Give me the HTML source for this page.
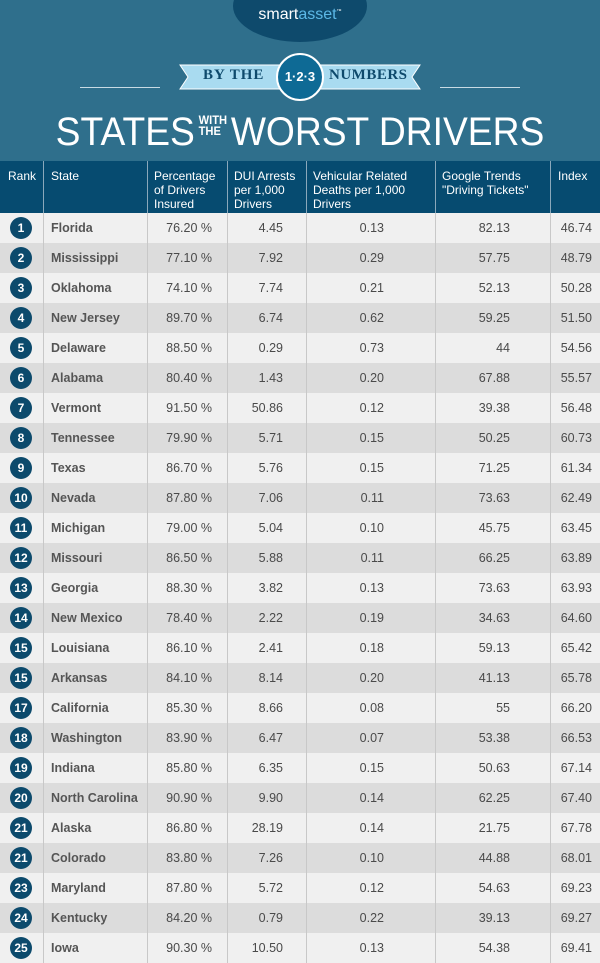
<!DOCTYPE html>
<html><head><meta charset="utf-8"><style>
*{margin:0;padding:0;box-sizing:border-box}
body{width:600px;height:963px;background:#2f6f8c;font-family:"Liberation Sans",sans-serif;position:relative;overflow:hidden}
.a{position:absolute}
.hdr{position:absolute;top:161px;left:0;width:600px;height:52px;background:#064b70}
.hc{position:absolute;top:8px;color:#fff;font-size:12px;line-height:14px}
.vl{position:absolute;width:1px;background:#c8c8c8}
.hv{position:absolute;top:161px;height:52px;width:1px;background:#8aa8bb}
.row{position:absolute;left:0;width:600px;height:30px;font-size:12.5px;color:#4a4a4a;line-height:30px}
.row span{position:absolute;top:0}
.rk{position:absolute;left:10px;top:4px;width:22px;height:22px;border-radius:50%;background:#0c4a6c;color:#fff;font-weight:bold;font-size:12px;line-height:22px;text-align:center}
.st{left:51px;font-weight:bold;color:#555}
.r{text-align:right}
</style></head><body>
<div class="a" style="left:233px;top:-30px;width:134px;height:72px;border-radius:50%;background:#0e4a6c"></div>
<div class="a" style="left:233px;top:6px;width:134px;text-align:center;color:#fff;font-size:16px">smart<span style="color:#5cb8e6">asset</span><sup style="font-size:5px">™</sup></div>
<div class="a" style="left:80px;top:87px;width:80px;height:1px;background:#c9dbe4"></div>
<div class="a" style="left:440px;top:87px;width:80px;height:1px;background:#c9dbe4"></div>
<svg class="a" style="left:178px;top:62px" width="244" height="30">
<polygon points="2,3 242,3 234,15 242,27 2,27 10,15" fill="#a9dbf0" stroke="#fff" stroke-width="1"/>
</svg>
<div class="a" style="left:203px;top:67px;font-family:'Liberation Serif',serif;font-weight:bold;font-size:15px;color:#0e4a6c;letter-spacing:1px">BY THE</div>
<div class="a" style="left:329px;top:67px;font-family:'Liberation Serif',serif;font-weight:bold;font-size:15px;color:#0e4a6c;letter-spacing:0.5px">NUMBERS</div>
<div class="a" style="left:276px;top:53px;width:48px;height:48px;border-radius:50%;background:#0e6a95;border:2px solid #fff;color:#fff;text-align:center;line-height:44px;font-size:13px;font-weight:bold">1·2·3</div>
<div class="a" style="left:0;top:110px;width:600px;text-align:center;color:#fff;font-size:40px;white-space:nowrap;transform:scaleX(0.93);transform-origin:300px 0">STATES<span style="display:inline-block;font-size:12px;line-height:11px;vertical-align:10px;margin:0 4px;font-weight:bold;text-align:left">WITH<br>THE</span>WORST DRIVERS</div>
<div class="hdr"></div>
<div class="hc" style="left:8px;top:169px">Rank</div>
<div class="hc" style="left:51px;top:169px">State</div>
<div class="hc" style="left:154px;top:169px">Percentage<br>of Drivers<br>Insured</div>
<div class="hc" style="left:234px;top:169px">DUI Arrests<br>per 1,000<br>Drivers</div>
<div class="hc" style="left:313px;top:169px">Vehicular Related<br>Deaths per 1,000<br>Drivers</div>
<div class="hc" style="left:442px;top:169px">Google Trends<br>"Driving Tickets"</div>
<div class="hc" style="left:558px;top:169px">Index</div>
<div id="rows"></div>
<script>
var d=[["1","Florida","76.20 %","4.45","0.13","82.13","46.74"],["2","Mississippi","77.10 %","7.92","0.29","57.75","48.79"],["3","Oklahoma","74.10 %","7.74","0.21","52.13","50.28"],["4","New Jersey","89.70 %","6.74","0.62","59.25","51.50"],["5","Delaware","88.50 %","0.29","0.73","44","54.56"],["6","Alabama","80.40 %","1.43","0.20","67.88","55.57"],["7","Vermont","91.50 %","50.86","0.12","39.38","56.48"],["8","Tennessee","79.90 %","5.71","0.15","50.25","60.73"],["9","Texas","86.70 %","5.76","0.15","71.25","61.34"],["10","Nevada","87.80 %","7.06","0.11","73.63","62.49"],["11","Michigan","79.00 %","5.04","0.10","45.75","63.45"],["12","Missouri","86.50 %","5.88","0.11","66.25","63.89"],["13","Georgia","88.30 %","3.82","0.13","73.63","63.93"],["14","New Mexico","78.40 %","2.22","0.19","34.63","64.60"],["15","Louisiana","86.10 %","2.41","0.18","59.13","65.42"],["15","Arkansas","84.10 %","8.14","0.20","41.13","65.78"],["17","California","85.30 %","8.66","0.08","55","66.20"],["18","Washington","83.90 %","6.47","0.07","53.38","66.53"],["19","Indiana","85.80 %","6.35","0.15","50.63","67.14"],["20","North Carolina","90.90 %","9.90","0.14","62.25","67.40"],["21","Alaska","86.80 %","28.19","0.14","21.75","67.78"],["21","Colorado","83.80 %","7.26","0.10","44.88","68.01"],["23","Maryland","87.80 %","5.72","0.12","54.63","69.23"],["24","Kentucky","84.20 %","0.79","0.22","39.13","69.27"],["25","Iowa","90.30 %","10.50","0.13","54.38","69.41"]];
var h="";
d.forEach(function(r,i){var t=213+30*i;
h+='<div class="row" style="top:'+t+'px;background:'+(i%2?'#dcdcdc':'#f0f0f0')+'"><div class="rk">'+r[0]+'</div><span class="st">'+r[1]+'</span>'+
'<span class="r" style="right:388px">'+r[2]+'</span><span class="r" style="right:317px">'+r[3]+'</span><span class="r" style="right:216px">'+r[4]+'</span><span class="r" style="right:90px">'+r[5]+'</span><span class="r" style="right:8px">'+r[6]+'</span></div>';});
[43,147,227,306,435,550].forEach(function(x){h+='<div class="vl" style="left:'+x+'px;top:213px;height:750px"></div><div class="hv" style="left:'+x+'px"></div>';});
document.getElementById("rows").innerHTML=h;
</script>
</body></html>
